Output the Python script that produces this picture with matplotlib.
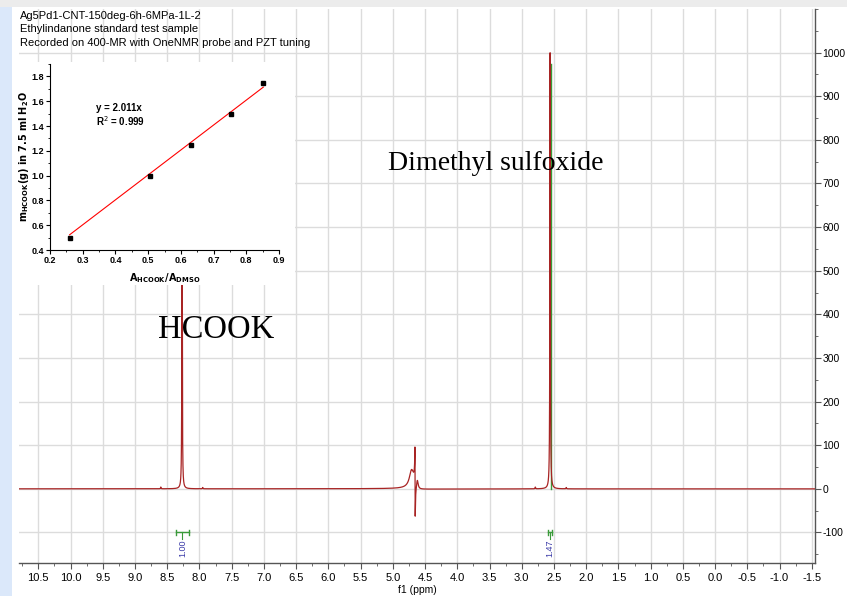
import numpy as np
import matplotlib.pyplot as plt
from matplotlib.patches import Rectangle
from matplotlib.ticker import MultipleLocator, FixedLocator

plt.rcParams['axes.unicode_minus'] = False

# 1H spectrum peaks: position (ppm), height, Lorentzian half width (ppm)
peak_ppm = [8.27, 8.60, 7.95, 4.71, 4.62, 2.56, 2.79, 2.31]
peak_height = [700, 4, 3, 38, 22, 1000, 4, 3]
peak_width = [0.004, 0.004, 0.004, 0.04, 0.015, 0.004, 0.004, 0.004]

# phase-distorted water residue (dispersive component)
disp_ppm = [4.655]
disp_amp = [79]
disp_width = [0.002]

# integrals: region start/end (ppm) and value
integ_from = [8.36, 2.585]
integ_to = [8.17, 2.535]
integ_value = ['1.00', '1.47']
integ_top = 975

# calibration inset
ratio = [0.26, 0.505, 0.63, 0.752, 0.852]
mass = [0.50, 1.00, 1.25, 1.50, 1.75]
slope = 2.011

header = ['Ag5Pd1-CNT-150deg-6h-6MPa-1L-2',
          'Ethylindanone standard test sample',
          'Recorded on 400-MR with OneNMR probe and PZT tuning']

red = '#a82424'
green = '#3a9a3a'
blue = '#3b3ba8'
grid = '#dcdcdc'
sans = 'Liberation Sans'

ppm = np.linspace(10.8, -1.55, 60000)
spec = np.zeros_like(ppm)
for p, h, w in zip(peak_ppm, peak_height, peak_width):
    spec += h * w**2 / ((ppm - p)**2 + w**2)
for p, a, w in zip(disp_ppm, disp_amp, disp_width):
    d = ppm - p
    spec += a * 2 * w * d / (d**2 + w**2)

fig = plt.figure(figsize=(8.47, 5.96), dpi=100)
ax = fig.add_axes([19/847, 1-563/596, (815-19)/847, (563-9)/596])
ax.set_xlim(10.8, -1.55)
ax.set_ylim(-170, 1100)

ax.xaxis.set_major_locator(MultipleLocator(0.5))
ax.xaxis.set_minor_locator(MultipleLocator(0.25))
ax.yaxis.set_major_locator(FixedLocator(np.arange(-100, 1001, 100)))
ax.yaxis.set_minor_locator(MultipleLocator(50))
ax.yaxis.tick_right()
ax.grid(True, which='major', color=grid, lw=1.0, zorder=0)
for s in ['left', 'top']:
    ax.spines[s].set_visible(False)
for s in ['bottom', 'right']:
    ax.spines[s].set_color('#555555')
    ax.spines[s].set_linewidth(1.0)
ax.tick_params(which='major', direction='out', length=4, width=0.8,
               color='#555555', labelsize=8, pad=3)
ax.tick_params(axis='y', which='major', labelsize=7.5, pad=1.5)
ax.tick_params(which='minor', direction='out', length=2, width=0.6,
               color='#555555')
for lab in ax.get_xticklabels() + ax.get_yticklabels():
    lab.set_fontfamily(sans)
ax.set_xlabel('f1 (ppm)', fontsize=7.5, family=sans, va='center')
ax.xaxis.set_label_coords(0.5, (563-590)/554)

# integral curve on the DMSO line
ax.plot([2.551, 2.551], [0, integ_top], color=green, lw=1.0, zorder=2)
ax.plot(ppm, spec, color=red, lw=0.9, zorder=3)

for a, b, v in zip(integ_from, integ_to, integ_value):
    c = (a + b) / 2
    ax.plot([a, b], [-100, -100], color=green, lw=1.0)
    ax.plot([a, a], [-106, -94], color=green, lw=1.0)
    ax.plot([b, b], [-106, -94], color=green, lw=1.0)
    ax.plot([c, c], [-100, -116], color=green, lw=0.8)
    ax.text(c, -117, v, rotation=90, ha='center', va='top', fontsize=6.5,
            family=sans, color=blue)

ax.text(5.08, 745, 'Dimethyl sulfoxide', fontsize=20,
        family='Liberation Serif', ha='left', va='center')
ax.text(8.64, 365, 'HCOOK', fontsize=23.5, family='Liberation Serif',
        ha='left', va='center')

# window decorations
fig.patches.append(Rectangle((0, 0), 12/847, 1, transform=fig.transFigure,
                             facecolor='#dbe8fa', edgecolor='none',
                             zorder=0.5))
fig.patches.append(Rectangle((0, 1-7/596), 1, 7/596, transform=fig.transFigure,
                             facecolor='#ececec', edgecolor='none',
                             zorder=0.5))
fig.patches.append(Rectangle((12/847, 1-285/596), (295-12)/847, (285-62)/596,
                             transform=fig.transFigure, facecolor='white',
                             edgecolor='none', zorder=1))

for i, line in enumerate(header):
    fig.text(20/847, 1-(16+13.5*i)/596, line, fontsize=8, family=sans,
             va='center', zorder=3)

# calibration inset
ins = fig.add_axes([50/847, 1-250/596, (279-50)/847, (250-64)/596])
ins.set_zorder(2)
ins.set_facecolor('white')
ins.set_xlim(0.2, 0.9)
ins.set_ylim(0.4, 1.9)
ins.xaxis.set_major_locator(MultipleLocator(0.1))
ins.xaxis.set_minor_locator(MultipleLocator(0.05))
ins.yaxis.set_major_locator(FixedLocator(np.arange(0.4, 1.81, 0.2)))
ins.yaxis.set_minor_locator(MultipleLocator(0.1))
for s in ['right', 'top']:
    ins.spines[s].set_visible(False)
for s in ['left', 'bottom']:
    ins.spines[s].set_linewidth(0.8)
ins.tick_params(which='major', direction='out', length=3, width=0.8,
                labelsize=6.5, pad=1.5)
ins.tick_params(which='minor', direction='out', length=1.5, width=0.6)
for lab in ins.get_xticklabels() + ins.get_yticklabels():
    lab.set_fontfamily(sans)
    lab.set_fontweight('bold')

fit_x = np.array([ratio[0], ratio[-1]])
ins.plot(fit_x, slope * fit_x, color='red', lw=0.8)
ins.plot(ratio, mass, 's', color='black', ms=3.5)
ins.text(0.34, 1.545, 'y = 2.011x', fontsize=7, weight='bold', family=sans,
         va='center')
ins.text(0.34, 1.44, 'R$^2$ = 0.999', fontsize=7, weight='bold', family=sans,
         va='center')
ins.set_xlabel(r'$\mathbf{A_{HCOOK}/A_{DMSO}}$', fontsize=7, labelpad=4)
ins.set_ylabel(r'$\mathbf{m_{HCOOK}(g)\ in\ 7.5\ ml\ H_2O}$', fontsize=7,
               labelpad=0)

plt.savefig('out.png', dpi=100)
